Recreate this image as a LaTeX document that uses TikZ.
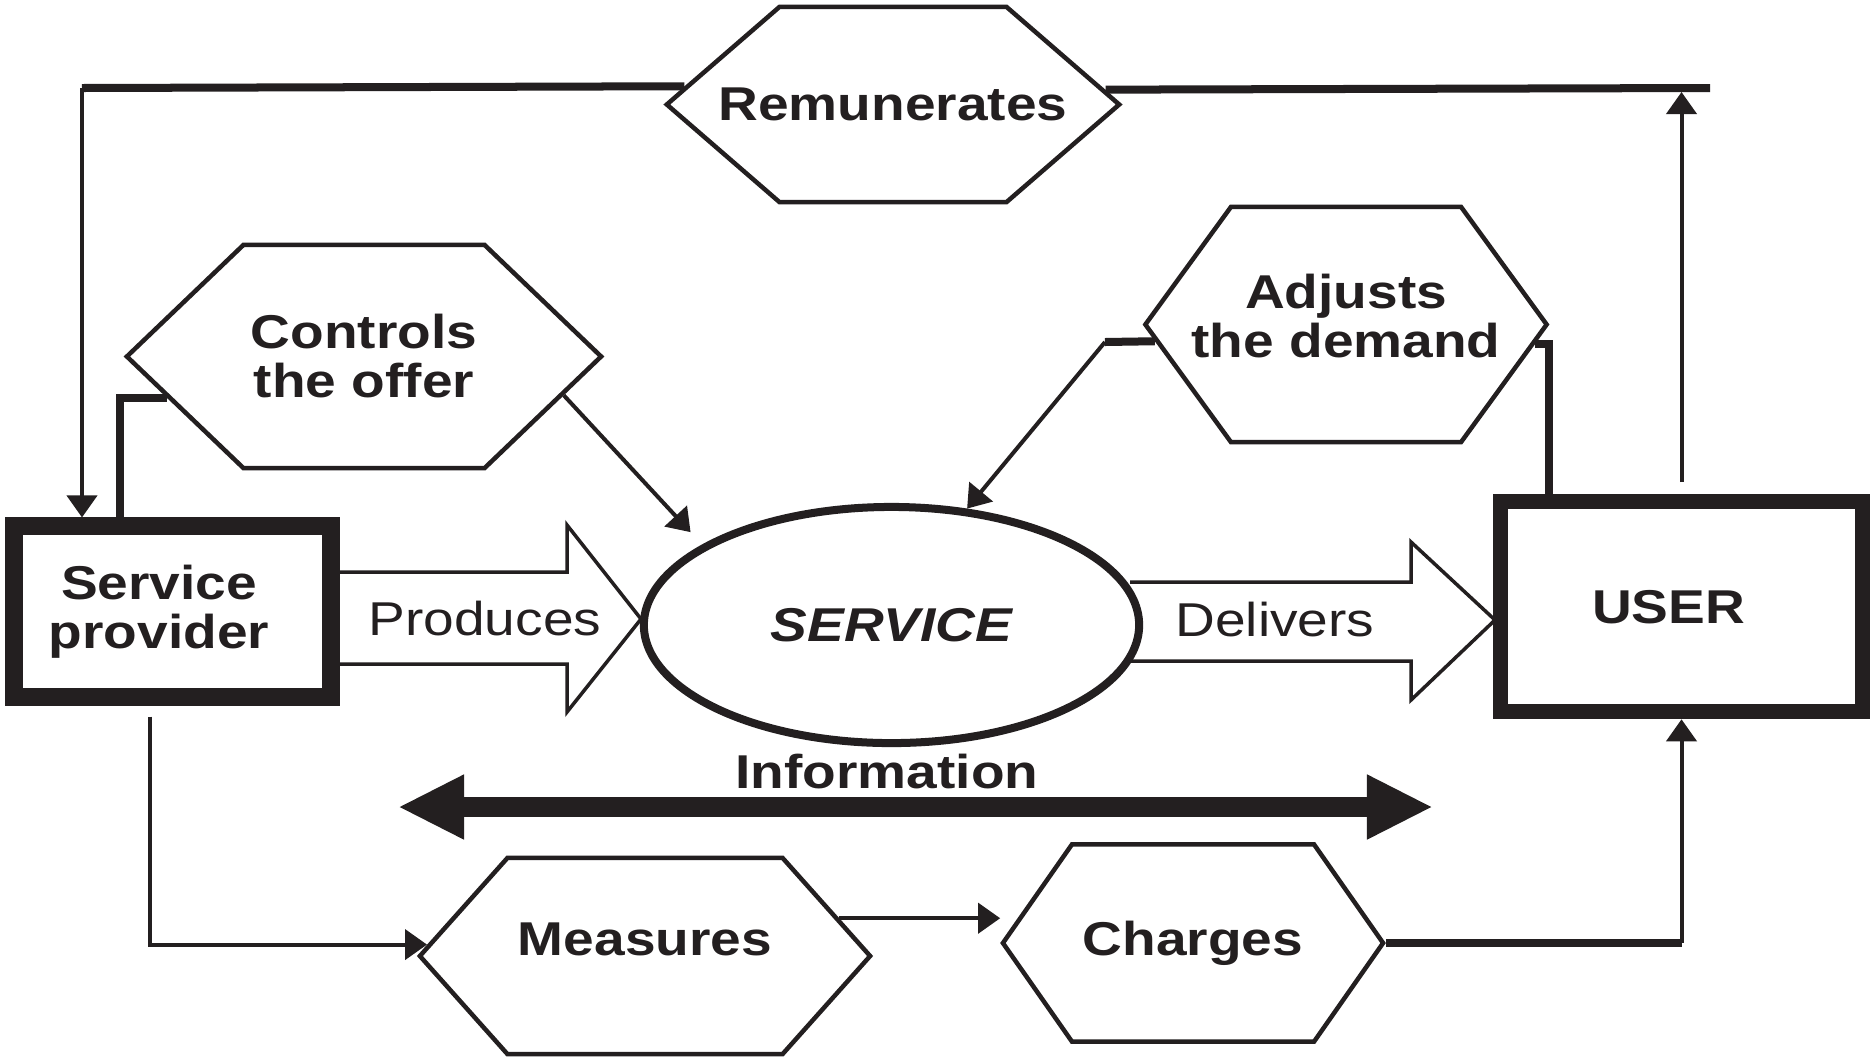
\documentclass[tikz,border=0pt]{standalone}
\usepackage{fontspec}
\setmainfont{Liberation Sans}[FakeStretch=1.16]
\usetikzlibrary{shapes.symbols,shapes.geometric,arrows.meta}
\definecolor{ink}{RGB}{35,31,32}
\newcommand\labfont{\fontsize{13.5}{13.8}\selectfont\bfseries}
\newcommand\plainfont{\fontsize{13.5}{13.8}\selectfont}
\newcommand\hexlabel[2][-5.5pt]{\makebox[0pt]{\raisebox{#1}[0pt][0pt]{\begin{tabular}{@{}c@{}}#2\end{tabular}}}}

\begin{document}
\begin{tikzpicture}[x=0.01cm,y=-0.01cm,
  every node/.style={text=ink},
  hexa/.style={shape=signal,signal to=east and west,draw=ink,line width=0.045cm,inner ysep=0pt,font=\labfont},
  actor/.style={draw=ink,rectangle,inner sep=0pt,align=center,font=\labfont},
  conn/.style={draw=ink,line width=0.04cm,>={Triangle[length=0.22cm,width=0.3cm]},->},
  link/.style={draw=ink,line width=0.08cm},
  fat/.style={draw=ink,line width=0.035cm,fill=white},
  info/.style={draw=ink,line width=0.2cm,>={Triangle[length=0.66cm,width=0.6cm]},<->}]
\fill[white] (0,0) rectangle (1873,1063);
\useasboundingbox (0,0) rectangle (1873,1063);

\draw[fat] (339,572) -- (567,572) -- (567,525) -- (641,619) -- (567,712) -- (567,664) -- (339,664);
\draw[fat] (1130,582) -- (1411,582) -- (1411,542) -- (1495,620) -- (1411,700) -- (1411,661) -- (1130,661);

\node[actor,line width=0.18cm,minimum width=3.16cm,minimum height=1.70cm] (sp) at (172.5,611.5) {Service\hspace*{0.27cm}\\provider\hspace*{0.27cm}};
\node[actor,line width=0.15cm,minimum width=3.62cm,minimum height=2.10cm] (usr) at (1681.5,606.7) {USER\hspace*{0.26cm}};
\node[ellipse,draw=ink,line width=0.08cm,minimum width=4.95cm,minimum height=2.36cm,inner sep=0pt,font=\labfont\itshape] (srv) at (891.5,625) {SERVICE};

\node[hexa,inner xsep=1.135cm,minimum height=1.95cm,signal pointer angle=81.8] (rem) at (893,104.5) {\hexlabel{Remunerates}};
\node[hexa,inner xsep=1.205cm,minimum height=2.23cm,signal pointer angle=87.5] (ctl) at (364,356.5) {\hexlabel{Controls\\the offer}};
\node[hexa,inner xsep=1.15cm,minimum height=2.35cm,signal pointer angle=107.9] (adj) at (1346,324.5) {\hexlabel[-3.2pt]{Adjusts\\the demand}};
\node[hexa,inner xsep=1.375cm,minimum height=1.96cm,signal pointer angle=96.5] (mea) at (645,956) {\hexlabel[-0.7pt]{Measures}};
\node[hexa,inner xsep=1.21cm,minimum height=1.97cm,signal pointer angle=110] (chg) at (1193,943) {\hexlabel[-4.4pt]{Charges}};

\node[font=\plainfont] (prod) at (485,619) {Produces};
\node[font=\plainfont] (dlv) at (1275,620) {Delivers};
\node[font=\labfont] (inf) at (887,772) {Information};

\coordinate (tl) at (82,88);
\coordinate (tr) at (1710,88);
\coordinate (ad) at (1105,342);
\coordinate (il) at (398,807);
\coordinate (ir) at (1433,807);
\coordinate (cu) at (chg.east -| usr.south);

\draw[link] (rem.175.4) -- (tl);
\draw[conn] (tl) -- (tl |- sp.north);
\draw[link] (rem.4.6) -- (tr);
\draw[conn,shorten >=0.04cm] ([yshift=0.12cm]usr.north) -- (usr.north |- tr);
\draw[link] ([xshift=-0.525cm]sp.north) |- (ctl.192);
\draw[conn,shorten >=0.17cm] (ctl.349.8) -- (srv.157.2);
\draw[link] (adj.185.2) -- (ad);
\draw[conn] (ad) -- (srv.57.8);
\draw[link] (adj.354.7) -| ([xshift=-1.325cm]usr.north);
\draw[conn] ([xshift=-0.225cm,yshift=-0.11cm]sp.south) |- (mea.177.7);
\draw[conn] (mea.11.7) -- (mea.11.7 -| chg.west);
\draw[link] (chg.east) -- (cu);
\draw[conn] (cu) -- (usr.south);
\draw[info] (il) -- (ir);
\end{tikzpicture}
\end{document}
